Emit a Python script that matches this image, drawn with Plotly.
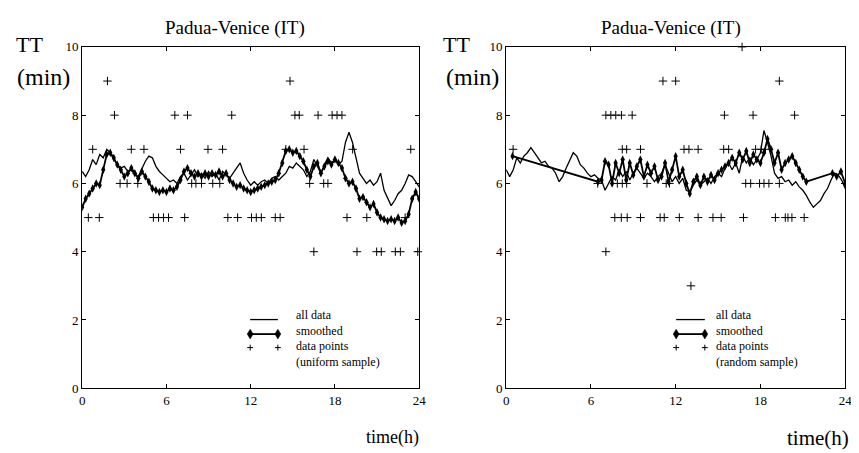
import plotly.graph_objects as go

# ---------------- data ----------------
hours = [i * 0.25 for i in range(97)]

left_all = [6.35, 6.2, 6.4, 6.7, 6.55, 6.85, 6.75, 7.0, 6.9, 6.7, 6.55, 6.45, 6.5, 6.35, 6.4, 6.25,
            6.2, 6.45, 6.65, 6.8, 6.75, 6.5, 6.35, 6.25, 6.15, 6.05, 6.1, 6.0, 6.2, 6.3, 6.1, 6.25,
            6.4, 6.2, 6.3, 6.15, 6.35, 6.2, 6.3, 6.1, 6.35, 6.25, 6.15, 6.3, 6.45, 6.6, 6.3, 6.1,
            5.95, 6.05, 5.95, 6.05, 6.1, 6.0, 6.15, 6.2, 6.1, 6.2, 6.3, 6.5, 6.45, 6.6, 6.5, 6.4,
            6.2, 6.35, 6.7, 6.5, 6.3, 6.55, 6.75, 6.6, 6.7, 6.55, 6.65, 7.2, 7.5, 7.2, 6.7, 6.3,
            6.15, 6.0, 6.1, 5.95, 6.05, 6.3, 5.8, 5.55, 5.35, 5.5, 5.7, 5.8, 6.0, 6.25, 6.2, 6.05,
            5.9]

left_smooth = [5.3, 5.55, 5.7, 5.85, 6.0, 5.95, 6.4, 6.85, 6.9, 6.75, 6.55, 6.4, 6.2, 6.3, 6.45, 6.3,
               6.15, 6.35, 6.2, 6.05, 5.85, 5.8, 5.75, 5.8, 5.75, 5.85, 5.8, 5.9, 6.1, 6.35, 6.45, 6.3,
               6.2, 6.3, 6.2, 6.3, 6.2, 6.3, 6.25, 6.35, 6.2, 6.3, 6.1, 6.0, 5.9, 5.95, 5.85, 5.8,
               5.75, 5.8, 5.85, 5.9, 5.95, 6.0, 6.05, 6.1, 6.3, 6.6, 6.95, 7.0, 6.9, 6.95, 6.8, 6.65,
               6.4, 6.2, 6.5, 6.6, 6.3, 6.5, 6.65, 6.55, 6.7, 6.6, 6.45, 6.15, 6.0, 6.05, 5.85, 5.55,
               5.6, 5.45, 5.3, 5.4, 5.15, 5.0, 4.95, 4.9, 4.95, 4.9, 5.0, 4.85, 4.9, 5.1, 5.55, 5.75,
               5.55]

right_all = [6.4, 6.2, 6.4, 6.75, 6.6, 6.8, 6.9, 7.05, 6.9, 6.75, 6.6, 6.65, 6.5, 6.45, 6.3, 6.05,
             6.2, 6.45, 6.7, 6.9, 6.8, 6.55, 6.45, 6.3, 6.2, 6.25, 6.15, 6.1, 5.8, 6.0, 6.2, 6.1,
             6.4, 6.2, 6.35, 6.1, 6.3, 6.45, 6.3, 6.15, 6.3, 6.2, 6.05, 6.2, 6.3, 6.55, 6.3, 6.05,
             6.2, 6.0, 6.15, 5.8, 5.75, 5.95, 6.1, 5.95, 6.05, 6.15, 6.0, 6.2, 6.3, 6.2, 6.45, 6.6,
             6.4, 6.6, 6.3, 6.8, 6.6, 6.75, 6.55, 6.7, 6.9, 7.55, 7.2, 6.8, 6.3, 6.15, 6.2, 6.05,
             6.1, 5.95, 6.05, 5.9, 5.8, 5.65, 5.45, 5.3, 5.4, 5.5, 5.7, 5.85, 6.1, 6.3, 6.25, 6.1,
             5.85]

right_smooth_x = [0.45, 6.5, 6.75, 7.0, 7.25, 7.5, 7.75, 8.0, 8.25, 8.5, 8.75, 9.0, 9.25, 9.5, 9.75,
                  10.0, 10.25, 10.5, 10.75, 11.0, 11.25, 11.5, 11.75, 12.0, 12.25, 12.5, 12.75, 13.0,
                  13.25, 13.5, 13.75, 14.0, 14.25, 14.5, 14.75, 15.0, 15.25, 15.5, 15.75, 16.0, 16.25,
                  16.5, 16.75, 17.0, 17.25, 17.5, 17.75, 18.0, 18.25, 18.5, 18.75, 19.0, 19.25, 19.5,
                  19.75, 20.0, 20.25, 20.5, 20.75, 21.0, 21.25, 23.1, 23.4, 23.7, 24.0]
right_smooth_y = [6.8, 6.05, 6.1, 6.65, 6.55, 6.0, 6.6, 6.3, 6.7, 6.1, 6.6, 6.25, 6.5, 6.7, 6.2,
                  6.55, 6.3, 6.5, 6.1, 6.2, 6.6, 6.05, 6.4, 6.8, 6.2, 6.4, 6.0, 5.7,
                  6.05, 6.2, 5.95, 6.2, 6.05, 6.25, 6.1, 6.3, 6.4, 6.5, 6.6, 6.75, 6.6,
                  6.9, 6.7, 6.95, 6.6, 6.85, 6.7, 6.6, 6.9, 7.3, 7.0, 6.6, 6.9, 6.4,
                  6.6, 6.7, 6.8, 6.6, 6.4, 6.2, 6.05, 6.3, 6.2, 6.35, 6.0]

left_pts_x = [1.8, 14.8,
              2.3, 6.6, 7.5, 10.65, 15.15, 15.46, 16.8, 17.8, 18.15, 18.5,
              0.75, 3.5, 4.4, 7.0, 8.96, 10.0, 14.5, 15.8, 19.26, 23.4,
              2.7, 3.2, 3.96, 7.8, 8.1, 8.5, 9.3, 9.8, 16.2, 17.2, 17.5,
              0.44, 1.22, 5.07, 5.44, 5.79, 6.15, 7.3, 10.37, 11.07, 12.06, 12.4, 12.76, 13.75, 14.1,
              18.86, 20.27, 23.0,
              16.5, 19.57, 20.97, 21.3, 22.3, 22.66, 23.9]
left_pts_y = [9, 9,
              8, 8, 8, 8, 8, 8, 8, 8, 8, 8,
              7, 7, 7, 7, 7, 7, 7, 7, 7, 7,
              6, 6, 6, 6, 6, 6, 6, 6, 6, 6, 6,
              5, 5, 5, 5, 5, 5, 5, 5, 5, 5, 5, 5, 5, 5,
              5, 5, 5,
              4, 4, 4, 4, 4, 4, 4]

right_pts_x = [16.7,
               11.1, 12.0, 19.34,
               7.06, 7.41, 7.76, 8.16, 8.92, 15.45, 17.48, 20.42,
               0.49, 8.22, 8.53, 9.51, 12.59, 12.94, 13.59, 15.4, 15.75, 17.66, 18.06, 18.36,
               6.48, 7.87, 8.22, 8.53, 9.97, 11.33, 11.56, 16.96, 17.31, 17.94, 18.25, 18.6, 19.34,
               7.69, 8.15, 8.57, 9.51, 10.9, 11.19, 12.26, 13.59, 14.64, 15.22, 16.8, 19.06, 19.76,
               19.95, 20.23, 21.1,
               7.06, 13.08]
right_pts_y = [10,
               9, 9, 9,
               8, 8, 8, 8, 8, 8, 8, 8,
               7, 7, 7, 7, 7, 7, 7, 7, 7, 7, 7, 7,
               6, 6, 6, 6, 6, 6, 6, 6, 6, 6, 6, 6, 6,
               5, 5, 5, 5, 5, 5, 5, 5, 5, 5, 5, 5, 5,
               5, 5, 5,
               4, 3]

x_ticks = [0, 6, 12, 18, 24]
y_ticks = [0, 2, 4, 6, 8, 10]
title_text = "Padua-Venice (IT)"
legend_left = ["all data", "smoothed", "data points", "(uniform sample)"]
legend_right = ["all data", "smoothed", "data points", "(random sample)"]

# ---------------- figure ----------------
FONT = "Liberation Serif"
W, H = 859, 453
fig = go.Figure()


def add_panel(xa, ya, all_y, sm_x, sm_y, px, py, names):
    fig.add_trace(go.Scatter(x=hours, y=all_y, mode="lines", name=names[0],
                             line=dict(color="black", width=1.3), xaxis=xa, yaxis=ya,
                             showlegend=False))
    fig.add_trace(go.Scatter(x=sm_x, y=sm_y, mode="lines+markers", name=names[1],
                             line=dict(color="black", width=1.8),
                             marker=dict(symbol="diamond-tall", size=6, color="black"),
                             xaxis=xa, yaxis=ya, showlegend=False))
    fig.add_trace(go.Scatter(x=px, y=py, mode="markers", name=names[2],
                             marker=dict(symbol="cross-thin", size=6,
                                         line=dict(color="black", width=1)),
                             xaxis=xa, yaxis=ya, showlegend=False, cliponaxis=False))


add_panel("x", "y", left_all, hours, left_smooth, left_pts_x, left_pts_y, legend_left)
add_panel("x2", "y2", right_all, right_smooth_x, right_smooth_y, right_pts_x, right_pts_y, legend_right)

axis_common = dict(showgrid=False, zeroline=False, showline=True, linecolor="black", linewidth=1,
                   mirror="allticks", ticks="inside", ticklen=4, tickcolor="black",
                   tickfont=dict(family=FONT, size=13, color="black"))

y0, y1 = (H - 386) / H, (H - 33) / H
fig.update_layout(
    width=W, height=H, margin=dict(l=0, r=0, t=0, b=0),
    paper_bgcolor="white", plot_bgcolor="white",
    font=dict(family=FONT, color="black"),
    showlegend=False,
    xaxis=dict(domain=[72 / W, 413 / W], range=[0, 24], tickvals=x_ticks, anchor="y", **axis_common),
    yaxis=dict(domain=[y0, y1], range=[0, 10], tickvals=y_ticks, anchor="x", **axis_common),
    xaxis2=dict(domain=[501 / W, 844 / W], range=[0, 24], tickvals=x_ticks, anchor="y2", **axis_common),
    yaxis2=dict(domain=[y0, y1], range=[0, 10], tickvals=y_ticks, anchor="x2", **axis_common),
)


def px_x(x):
    return x / W


def px_y(y):
    return 1 - y / H


def ann(text, x, y, size, xanchor="center", yanchor="middle"):
    fig.add_annotation(text=text, x=px_x(x), y=px_y(y), xref="paper", yref="paper",
                       showarrow=False, xanchor=xanchor, yanchor=yanchor, align="left",
                       font=dict(family=FONT, size=size, color="black"))


ann(title_text, 227, 13, 19)
ann(title_text, 668, 13, 19)
ann("TT", 19, 31, 22)
ann("(min)", 33, 64, 24)
ann("TT", 451, 31, 22)
ann("(min)", 467, 64, 24)
ann("time(h)", 386, 437, 18)
ann("time(h)", 816, 437, 21)


# hand-drawn legend keys, as in the original figure
def legend_block(x_line0, x_line1, x_text, labels):
    fig.add_shape(type="line", xref="paper", yref="paper",
                  x0=px_x(x_line0), x1=px_x(x_line1), y0=px_y(315), y1=px_y(315),
                  line=dict(color="black", width=1.3))
    fig.add_shape(type="line", xref="paper", yref="paper",
                  x0=px_x(x_line0), x1=px_x(x_line1), y0=px_y(330), y1=px_y(330),
                  line=dict(color="black", width=1.8))
    for xc in (x_line0, x_line1):
        d = "M {a},{b} L {c},{d} L {e},{f} L {g},{h} Z".format(
            a=px_x(xc), b=px_y(330 - 5), c=px_x(xc + 3), d=px_y(330),
            e=px_x(xc), f=px_y(330 + 5), g=px_x(xc - 3), h=px_y(330))
        fig.add_shape(type="path", xref="paper", yref="paper", path=d,
                      fillcolor="black", line=dict(color="black", width=0.5))
        p = "M {a},{b} L {c},{b} M {d},{e} L {d},{f}".format(
            a=px_x(xc - 3), b=px_y(344), c=px_x(xc + 3), d=px_x(xc), e=px_y(341), f=px_y(347))
        fig.add_shape(type="path", xref="paper", yref="paper", path=p,
                      line=dict(color="black", width=1))
    ann("<br>".join(labels), x_text, 301, 12, xanchor="left", yanchor="top")


legend_block(242, 270, 286, legend_left)
legend_block(673, 702, 711, legend_right)

fig.write_html("out.html")
